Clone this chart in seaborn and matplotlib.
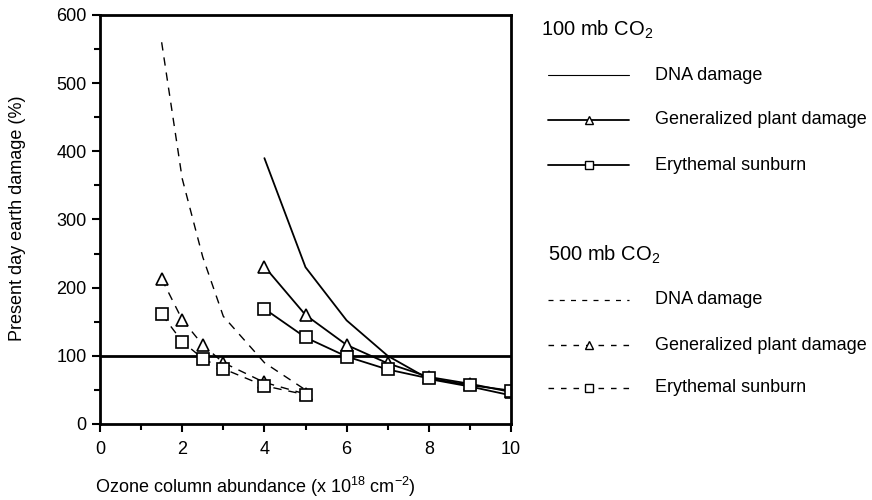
import numpy as np
import pandas as pd
import matplotlib
matplotlib.use("Agg")
import matplotlib.pyplot as plt
from matplotlib.lines import Line2D
from matplotlib.ticker import MultipleLocator
import seaborn as sns

# ---- data ----
x100 = [4, 5, 6, 7, 8, 9, 10]
dna100 = [390, 230, 152, 100, 66, 55, 42]
plant100 = [231, 160, 116, 89, 69, 59, 47]
ery100 = [169, 127, 99, 80, 67, 57, 49]

x500 = [1.5, 2, 2.5, 3, 4, 5]
dna500 = [560, 360, 245, 158, 90, 50]
plant500 = [213, 153, 116, 90, 61, 44]
ery500 = [161, 121, 96, 81, 56, 43]

reference_level = 100
xticks = [0, 2, 4, 6, 8, 10]
yticks = [0, 100, 200, 300, 400, 500, 600]

sns.set_theme(style="white")
plt.rcParams['font.family'] = ['Liberation Sans', 'DejaVu Sans']
plt.rcParams['mathtext.fontset'] = 'custom'
plt.rcParams['mathtext.rm'] = 'Liberation Sans'
plt.rcParams['text.color'] = 'black'
plt.rcParams['axes.labelcolor'] = 'black'
plt.rcParams['xtick.color'] = 'black'
plt.rcParams['ytick.color'] = 'black'

fig = plt.figure(figsize=(8.72, 5.0), dpi=100)
ax = fig.add_axes([100/872, 1 - 424/500, 411/872, 409/500])

lw = 1.3
mk = dict(markerfacecolor='white', markeredgecolor='black', markeredgewidth=1.2)
dash = (0, (6, 5))

sns.lineplot(x=x100, y=dna100, ax=ax, color='black', lw=lw)
sns.lineplot(x=x100, y=plant100, ax=ax, color='black', lw=lw, marker='^', markersize=8, **mk)
sns.lineplot(x=x100, y=ery100, ax=ax, color='black', lw=lw, marker='s', markersize=8, **mk)

sns.lineplot(x=x500, y=dna500, ax=ax, color='black', lw=1.0, linestyle=dash)
sns.lineplot(x=x500, y=plant500, ax=ax, color='black', lw=1.0, linestyle=dash,
             marker='^', markersize=8, **mk)
sns.lineplot(x=x500, y=ery500, ax=ax, color='black', lw=1.0, linestyle=dash,
             marker='s', markersize=8, **mk)

ax.axhline(reference_level, color='black', lw=2.0, zorder=1)

ax.set_xlim(0, 10)
ax.set_ylim(0, 600)
ax.set_xticks(xticks)
ax.set_yticks(yticks)
ax.xaxis.set_minor_locator(MultipleLocator(1))
ax.yaxis.set_minor_locator(MultipleLocator(50))
ax.tick_params(axis='both', which='major', direction='out', length=6, width=1.5,
               labelsize=13, colors='black', bottom=True, left=True)
ax.tick_params(axis='x', which='major', pad=6)
ax.tick_params(axis='both', which='minor', direction='out', length=4, width=1.5,
               bottom=True, left=True)
for s in ax.spines.values():
    s.set_visible(True)
    s.set_color('black')
    s.set_linewidth(2.0)

ax.set_xlabel('Ozone column abundance (x 10$^{18}$ cm$^{-2}$)', fontsize=13, color='black')
ax.xaxis.set_label_coords(0.377, -0.154)
ax.xaxis.label.set_va('center')
ax.set_ylabel('Present day earth damage (%)', fontsize=13, color='black')
ax.yaxis.set_label_coords(-0.2, 0.504)
ax.yaxis.label.set_va('center')

# ---- legend drawn at figure level ----
def fx(px):
    return px / 872

def fy(py):
    return 1 - py / 500

fig.text(fx(541), fy(30), '100 mb CO$_2$', fontsize=14.5, va='center', ha='left', color='black')
fig.text(fx(548), fy(255), '500 mb CO$_2$', fontsize=14.5, va='center', ha='left', color='black')

rows = [
    (75, '-', None, 'DNA damage', 0.8),
    (120, '-', '^', 'Generalized plant damage', 1.3),
    (165, '-', 's', 'Erythemal sunburn', 1.3),
    (300, (0, (4, 5)), None, 'DNA damage', 0.9),
    (345, (0, (4, 5)), '^', 'Generalized plant damage', 1.0),
    (388, (0, (4, 5)), 's', 'Erythemal sunburn', 1.0),
]
for py, ls, m, label, w in rows:
    fig.add_artist(Line2D([fx(548), fx(629)], [fy(py), fy(py)], transform=fig.transFigure,
                          color='black', lw=w, linestyle=ls))
    if m is not None:
        fig.add_artist(Line2D([fx(588.5)], [fy(py)], transform=fig.transFigure,
                              marker=m, markersize=5.5, linestyle='none',
                              markerfacecolor='white', markeredgecolor='black', markeredgewidth=1.0))
    fig.text(fx(655), fy(py), label, fontsize=13, va='center', ha='left', color='black')

fig.savefig('out.png', dpi=100)
